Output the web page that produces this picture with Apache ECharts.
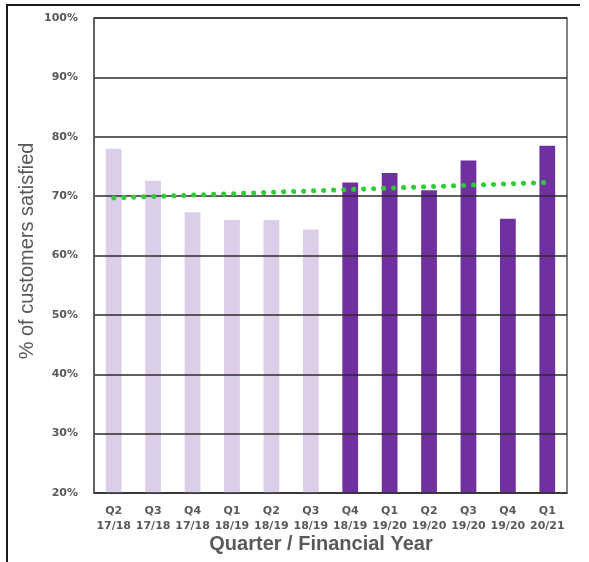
<!DOCTYPE html>
<html>
<head>
<meta charset="utf-8">
<script src="https://cdn.jsdelivr.net/npm/echarts@6/dist/echarts.min.js"></script>
<style>
  html, body { margin: 0; padding: 0; background: #ffffff; }
  #chart { width: 589px; height: 562px; }
</style>
</head>
<body>
<div id="chart"></div>
<script>
// Quarterly customer satisfaction, % satisfied
const quarters = ['Q2', 'Q3', 'Q4', 'Q1', 'Q2', 'Q3', 'Q4', 'Q1', 'Q2', 'Q3', 'Q4', 'Q1'];
const years = ['17/18', '17/18', '17/18', '18/19', '18/19', '18/19', '18/19', '19/20', '19/20', '19/20', '19/20', '20/21'];
const satisfied = [78.0, 72.6, 67.3, 66.0, 66.0, 64.4, 72.3, 73.9, 71.0, 76.0, 66.2, 78.5];
// quarters before this index are shown in the lighter shade
const firstHighlighted = 6;
// linear trend line, value at first and last quarter
const trendEnds = [69.7, 72.3];
const yTicks = [20, 30, 40, 50, 60, 70, 80, 90, 100];

const categories = quarters.map((q, i) => q + '\n' + years[i]);
const trendData = satisfied.map((_, i) =>
  i === 0 ? trendEnds[0] : (i === satisfied.length - 1 ? trendEnds[1] : null));

const chart = echarts.init(document.getElementById('chart'), null, { renderer: 'canvas' });

chart.setOption({
  animation: false,
  backgroundColor: '#ffffff',
  grid: {
    left: 94, right: 22, top: 18, bottom: 69,
    show: true, borderColor: '#595959', borderWidth: 1.5, backgroundColor: 'transparent'
  },
  xAxis: {
    type: 'category',
    data: categories,
    boundaryGap: true,
    axisTick: { show: false },
    axisLine: { lineStyle: { color: '#595959', width: 1.5 } },
    axisLabel: {
      color: '#595959',
      fontFamily: 'DejaVu Sans',
      fontWeight: 'bold',
      fontSize: 11,
      lineHeight: 15,
      margin: 11,
      interval: 0
    }
  },
  yAxis: {
    type: 'value',
    min: yTicks[0],
    max: yTicks[yTicks.length - 1],
    interval: 10,
    z: 5,
    axisLine: { show: true, lineStyle: { color: '#595959', width: 1.5 } },
    axisTick: { show: false },
    splitLine: { lineStyle: { color: '#2b2b2b', width: 1.5 } },
    axisLabel: {
      color: '#595959',
      fontFamily: 'DejaVu Sans',
      fontWeight: 'bold',
      fontSize: 11,
      margin: 16,
      formatter: v => v + '%'
    }
  },
  series: [
    {
      type: 'bar',
      data: satisfied.map((v, i) => ({
        value: v,
        itemStyle: { color: i < firstHighlighted ? '#dccde8' : '#7030a0' }
      })),
      barWidth: '40%',
      z: 2
    },
    {
      type: 'line',
      data: trendData,
      connectNulls: true,
      symbol: 'none',
      z: 6,
      lineStyle: {
        color: '#2fcc38',
        width: 5,
        type: [0.1, 9.9],
        cap: 'round'
      }
    }
  ],
  graphic: [
    {
      type: 'text',
      x: 321, y: 544,
      style: {
        text: 'Quarter / Financial Year',
        fill: '#595959',
        font: 'bold 20px "Liberation Sans", Arial, sans-serif',
        align: 'center',
        verticalAlign: 'middle'
      }
    },
    {
      type: 'text',
      x: 27, y: 251,
      rotation: Math.PI / 2,
      style: {
        text: '% of customers satisfied',
        fill: '#595959',
        font: '20px "Liberation Sans", Arial, sans-serif',
        align: 'center',
        verticalAlign: 'middle'
      }
    },
    {
      type: 'polyline',
      shape: { points: [[7, 600], [7, 5], [580, 5]] },
      style: { stroke: '#1a1a1a', lineWidth: 2, fill: null }
    }
  ]
});
</script>
</body>
</html>
